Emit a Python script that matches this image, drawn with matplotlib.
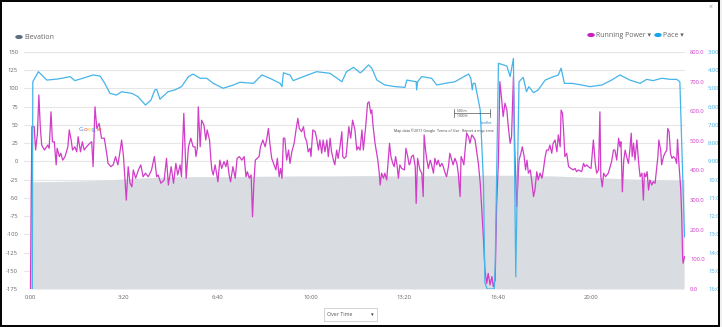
import matplotlib
matplotlib.use("Agg")
import matplotlib.pyplot as plt
from matplotlib.patches import Rectangle, Circle
from matplotlib.lines import Line2D

plt.rcParams['font.family'] = ['Open Sans', 'DejaVu Sans']

# ---------------- data ----------------
# elevation (left axis)
elev_t = [0, 60, 150, 230, 300, 400, 480, 560, 640, 720, 800, 880, 960, 1040, 1120, 1200, 1280, 1360, 1399]
elev_v = [-28, -27.5, -26, -23, -21, -21, -20.5, -20, -20, -19.5, -20, -19.5, -19, -19, -20, -22, -24, -25.5, -26.5]

# pace (min/km, right axis, inverted)
pace_t = [5, 6, 18, 36, 60, 86, 96, 113, 135, 150, 160, 171, 185, 196, 218, 231, 247, 259, 267, 271,
          278, 295, 310, 324, 339, 349, 364, 378, 392, 413, 435, 449, 478, 496, 513, 535, 539, 542, 556, 563,
          585, 613, 642, 667, 677, 692, 706, 710, 724, 731, 742, 759, 781, 802, 806, 826, 827, 829, 838, 859,
          870, 888, 909, 938, 943, 946, 948, 952, 963, 970, 973, 978, 993, 995, 1002, 1020, 1027, 1034, 1039, 1046,
          1055, 1062, 1067, 1077, 1087, 1102, 1116, 1130, 1136, 1143, 1159, 1180, 1198, 1223, 1244, 1262, 1283, 1305, 1319, 1333,
          1351, 1369, 1383, 1390, 1400]
pace_v = [16.0, 4.63, 4.08, 4.54, 4.48, 4.35, 4.57, 4.44, 4.26, 4.32, 4.72, 5.27, 5.36, 5.18, 5.27, 5.45, 5.91, 5.63, 5.08, 5.05,
          5.59, 5.18, 5.08, 4.90, 4.35, 4.21, 4.44, 4.44, 4.72, 4.99, 4.81, 4.66, 4.72, 4.26, 4.44, 4.72, 4.90, 4.14, 4.26, 4.57,
          4.35, 4.08, 4.17, 4.63, 4.08, 3.84, 4.14, 4.08, 3.71, 3.89, 4.54, 4.81, 4.90, 4.94, 4.54, 4.63, 5.08, 4.63, 4.35, 4.44,
          4.81, 4.72, 4.63, 4.21, 4.44, 5.08, 4.72, 4.72, 6.18, 10.19, 15.67, 16.0, 16.0, 14.78, 3.62, 3.77, 4.35, 3.35, 15.33, 4.63,
          4.39, 5.18, 4.90, 5.23, 5.08, 4.54, 4.39, 4.26, 3.89, 4.72, 4.72, 4.81, 4.90, 4.81, 4.54, 4.26, 4.54, 4.72, 4.50, 4.57,
          4.44, 4.50, 4.50, 4.63, 13.13]

# running power (W, right axis)
power_t = [1, 4, 9, 12, 16, 19, 22, 25, 31, 38, 41, 45, 48, 52, 56, 58, 63, 66, 70, 75,
           81, 84, 88, 91, 96, 100, 103, 108, 112, 116, 121, 128, 132, 135, 139, 143, 148, 153, 159, 164,
           167, 173, 178, 183, 188, 193, 196, 200, 203, 206, 210, 214, 218, 221, 226, 232, 237, 242, 247, 253,
           260, 266, 271, 274, 280, 287, 292, 296, 302, 307, 312, 316, 321, 324, 329, 334, 339, 344, 349, 353,
           355, 358, 360, 364, 367, 372, 376, 379, 384, 387, 389, 392, 396, 399, 402, 406, 410, 415, 419, 422,
           426, 429, 434, 439, 443, 448, 453, 458, 462, 465, 469, 473, 476, 479, 482, 486, 490, 493, 498, 503,
           506, 510, 513, 517, 522, 526, 529, 533, 536, 539, 542, 545, 549, 553, 556, 560, 565, 569, 573, 576,
           581, 585, 588, 592, 595, 599, 601, 605, 610, 613, 617, 620, 624, 627, 631, 635, 638, 642, 645, 649,
           652, 656, 659, 663, 667, 669, 672, 676, 679, 682, 686, 690, 695, 699, 702, 706, 710, 713, 718, 722,
           725, 729, 731, 734, 738, 744, 747, 749, 752, 756, 759, 763, 766, 769, 772, 776, 779, 782, 785, 788,
           791, 795, 801, 804, 808, 811, 813, 816, 820, 824, 826, 829, 834, 838, 841, 843, 846, 849, 852, 856,
           859, 863, 866, 870, 873, 877, 881, 884, 888, 891, 895, 898, 902, 905, 909, 913, 916, 920, 922, 925,
           928, 930, 934, 938, 941, 945, 948, 952, 955, 959, 963, 966, 970, 973, 977, 980, 984, 988, 991, 995,
           998, 1002, 1005, 1009, 1012, 1016, 1020, 1023, 1027, 1030, 1034, 1037, 1041, 1046, 1050, 1053, 1057, 1060, 1063, 1066,
           1070, 1073, 1077, 1080, 1084, 1087, 1091, 1095, 1098, 1102, 1105, 1109, 1112, 1116, 1119, 1123, 1127, 1130, 1134, 1136,
           1139, 1142, 1144, 1148, 1152, 1157, 1162, 1166, 1169, 1173, 1180, 1184, 1187, 1191, 1194, 1200, 1205, 1209, 1212, 1216,
           1219, 1221, 1224, 1227, 1231, 1237, 1244, 1248, 1251, 1255, 1259, 1262, 1264, 1267, 1270, 1273, 1276, 1280, 1283, 1286,
           1288, 1291, 1294, 1298, 1302, 1305, 1309, 1312, 1314, 1317, 1320, 1323, 1326, 1330, 1333, 1337, 1343, 1345, 1349, 1351,
           1355, 1358, 1362, 1364, 1367, 1370, 1373, 1376, 1380, 1383, 1385, 1388, 1392, 1394, 1396, 1397, 1400]
power_v = [0, 548, 548, 469, 526, 655, 548, 486, 469, 486, 475, 598, 497, 497, 419, 475, 447, 458, 435, 447,
           480, 537, 503, 469, 480, 463, 514, 463, 497, 469, 480, 492, 497, 413, 615, 542, 559, 509, 509, 458,
           424, 413, 419, 447, 419, 469, 503, 447, 374, 300, 413, 357, 345, 402, 374, 402, 419, 379, 391, 379,
           402, 447, 379, 385, 357, 368, 441, 351, 413, 357, 424, 385, 419, 379, 593, 374, 480, 509, 480, 480,
           447, 475, 615, 480, 570, 554, 503, 537, 503, 435, 402, 385, 419, 391, 362, 435, 407, 430, 413, 435,
           385, 362, 413, 374, 441, 447, 435, 447, 379, 396, 374, 385, 244, 362, 435, 441, 447, 480, 503, 480,
           503, 542, 492, 441, 419, 402, 441, 379, 407, 374, 509, 509, 435, 469, 424, 463, 492, 537, 576, 542,
           531, 548, 514, 497, 463, 475, 447, 537, 531, 509, 469, 503, 458, 503, 463, 503, 447, 509, 463, 435,
           419, 469, 441, 480, 531, 447, 441, 447, 497, 548, 509, 570, 537, 469, 480, 469, 537, 469, 548, 627,
           632, 593, 604, 548, 492, 435, 391, 351, 391, 374, 391, 368, 430, 492, 447, 424, 413, 447, 419, 374,
           419, 407, 402, 475, 447, 419, 424, 447, 452, 413, 289, 441, 402, 391, 312, 520, 469, 435, 407, 435,
           419, 391, 441, 419, 435, 413, 424, 413, 391, 379, 413, 458, 435, 419, 441, 424, 391, 312, 447, 435,
           419, 458, 526, 514, 492, 520, 514, 503, 469, 424, 357, 278, 165, 64, 19, 53, 14, 42, 8, 30,
           278, 435, 700, 638, 582, 627, 604, 548, 492, 514, 717, 469, 278, 435, 458, 480, 447, 402, 435, 391,
           402, 368, 312, 334, 396, 368, 391, 374, 402, 447, 469, 469, 486, 458, 492, 503, 463, 520, 480, 604,
           593, 514, 447, 458, 413, 407, 402, 407, 396, 402, 396, 424, 413, 419, 413, 407, 503, 424, 391, 402,
           598, 379, 345, 391, 379, 391, 430, 469, 469, 435, 509, 480, 497, 328, 435, 469, 447, 424, 469, 526,
           447, 492, 435, 503, 424, 379, 391, 300, 391, 379, 396, 334, 368, 351, 362, 357, 447, 503, 469, 419,
           447, 458, 469, 542, 531, 458, 441, 447, 441, 424, 505, 424, 334, 244, 104, 87, 109]

x_ticks = [0, 200, 400, 600, 800, 1000, 1200]
x_labels = ["0:00", "3:20", "6:40", "10:00", "13:20", "16:40", "20:00"]
elev_ticks = list(range(-175, 151, 25))
power_ticks = list(range(0, 801, 100))
power_labels = [f"{p:.1f}" for p in power_ticks]
pace_ticks = list(range(3, 17))
pace_labels = [f"{p}:00" for p in pace_ticks]

# ---------------- styling ----------------
C_ELEV_FILL = '#d9dde1'
C_ELEV_DOT = '#5c6f80'
C_POWER = '#d13cc8'
C_POWER_DOT = '#c81fc3'
C_PACE = '#45b4ea'
C_PACE_DOT = '#17a6ee'
C_TXT = '#666666'
C_GRID = '#e6e6e6'

W, H = 722, 327
fig = plt.figure(figsize=(W / 100, H / 100), dpi=100)
fig.patch.set_facecolor('white')

L, R, T, B = 24, 685, 52, 289
ax = fig.add_axes([L / W, (H - B) / H, (R - L) / W, (B - T) / H])
ax.set_facecolor('none')
ax.set_xlim(-12.8, 1401)
ax.set_ylim(-175, 150)
ax.set_yticks(elev_ticks)
ax.set_yticklabels([str(v) for v in elev_ticks])
ax.set_xticks(x_ticks)
ax.set_xticklabels(x_labels)
ax.tick_params(axis='both', length=0, labelsize=4.2, colors=C_TXT)
ax.tick_params(axis='y', pad=4.3)
ax.tick_params(axis='x', pad=4.0)
for s in ax.spines.values():
    s.set_visible(False)
ax.grid(axis='y', color=C_GRID, lw=0.8, zorder=0)
ax.set_axisbelow(True)
ax.fill_between(elev_t, elev_v, -175, color=C_ELEV_FILL, lw=0, zorder=1)

ax2 = ax.twinx()
ax2.set_ylim(0, 800)
ax2.set_yticks(power_ticks)
ax2.set_yticklabels(power_labels)
ax2.tick_params(axis='y', length=0, labelsize=4.2, colors=C_POWER, pad=3.6)
for s in ax2.spines.values():
    s.set_visible(False)
ax2.plot(power_t, power_v, color=C_POWER, lw=0.9, zorder=3)

ax3 = ax.twinx()
ax3.set_ylim(16, 3)
ax3.set_yticks(pace_ticks)
ax3.set_yticklabels(pace_labels)
ax3.tick_params(axis='y', length=0, labelsize=4.2, colors=C_PACE, pad=16.6)
for s in ax3.spines.values():
    s.set_visible(False)
ax3.plot(pace_t, pace_v, color=C_PACE, lw=0.9, zorder=2, clip_on=True)


def px(x, y):
    return x / W, 1 - y / H


# legend
LFS = 5.0
fig.add_artist(Circle(px(19, 37), 3.0 / W, color=C_ELEV_DOT, transform=fig.transFigure))
fig.text(*px(24, 37.5), "Elevation", fontsize=LFS, color=C_TXT, va='center', ha='left')
fig.add_artist(Circle(px(591, 35), 3.0 / W, color=C_POWER_DOT, transform=fig.transFigure))
fig.text(*px(596, 35.5), "Running Power ▾", fontsize=LFS, color=C_TXT, va='center', ha='left')
fig.add_artist(Circle(px(658, 35), 3.0 / W, color=C_PACE_DOT, transform=fig.transFigure))
fig.text(*px(663, 35.5), "Pace ▾", fontsize=LFS, color=C_TXT, va='center', ha='left')
fig.text(*px(711, 7), "×", fontsize=5, color='#999999', va='center', ha='center')

# map overlay remnants
renderer = fig.canvas.get_renderer()
g_cols = ['#4285f4', '#ea4335', '#fbbc05', '#4285f4', '#34a853', '#ea4335']
gx = 79.0
for ch, c in zip("Google", g_cols):
    t = fig.text(*px(gx, 129), ch, fontsize=4.6, color=c, va='center', ha='left')
    bb = t.get_window_extent(renderer)
    gx += bb.width + 0.3
fig.text(*px(394, 131), "Map data ©2017 Google", fontsize=2.6, color='#444444', va='center', ha='left')
fig.text(*px(437, 131), "Terms of Use", fontsize=2.6, color='#444444', va='center', ha='left')
fig.text(*px(462, 131), "Report a map error", fontsize=2.6, color='#444444', va='center', ha='left')
fig.add_artist(Line2D([454 / W, 490 / W], [1 - 113 / H, 1 - 113 / H], color='#555555', lw=0.5))
fig.add_artist(Line2D([454 / W, 454 / W], [1 - 109 / H, 1 - 117 / H], color='#555555', lw=0.5))
fig.add_artist(Line2D([490 / W, 490 / W], [1 - 109 / H, 1 - 117 / H], color='#555555', lw=0.5))
fig.text(*px(457, 111), "500 m", fontsize=2.4, color='#444444', va='center', ha='left')
fig.text(*px(457, 116), "1000 ft", fontsize=2.4, color='#444444', va='center', ha='left')
fig.text(*px(481, 123), "Leaflet", fontsize=2.6, color='#2a7ab8', va='center', ha='left')

# dropdown
fig.add_artist(Rectangle(px(324, 321), 53 / W, 13 / H, transform=fig.transFigure,
                         facecolor='white', edgecolor='#cccccc', lw=0.6))
fig.text(*px(327, 314.5), "Over Time", fontsize=3.8, color='#555555', va='center', ha='left')
fig.text(*px(372, 314.5), "▾", fontsize=3.8, color='#333333', va='center', ha='center')

# outer frame
fig.add_artist(Rectangle((718.5 / W, 0), 4 / W, 1, transform=fig.transFigure,
                         facecolor='#f0f0f0', edgecolor='none', zorder=20))
fig.add_artist(Rectangle((0.5 / W, 1.5 / H), 718 / W, 325 / H, transform=fig.transFigure,
                         facecolor='none', edgecolor='black', lw=1.4, zorder=21))

fig.savefig("out.png", dpi=100)
